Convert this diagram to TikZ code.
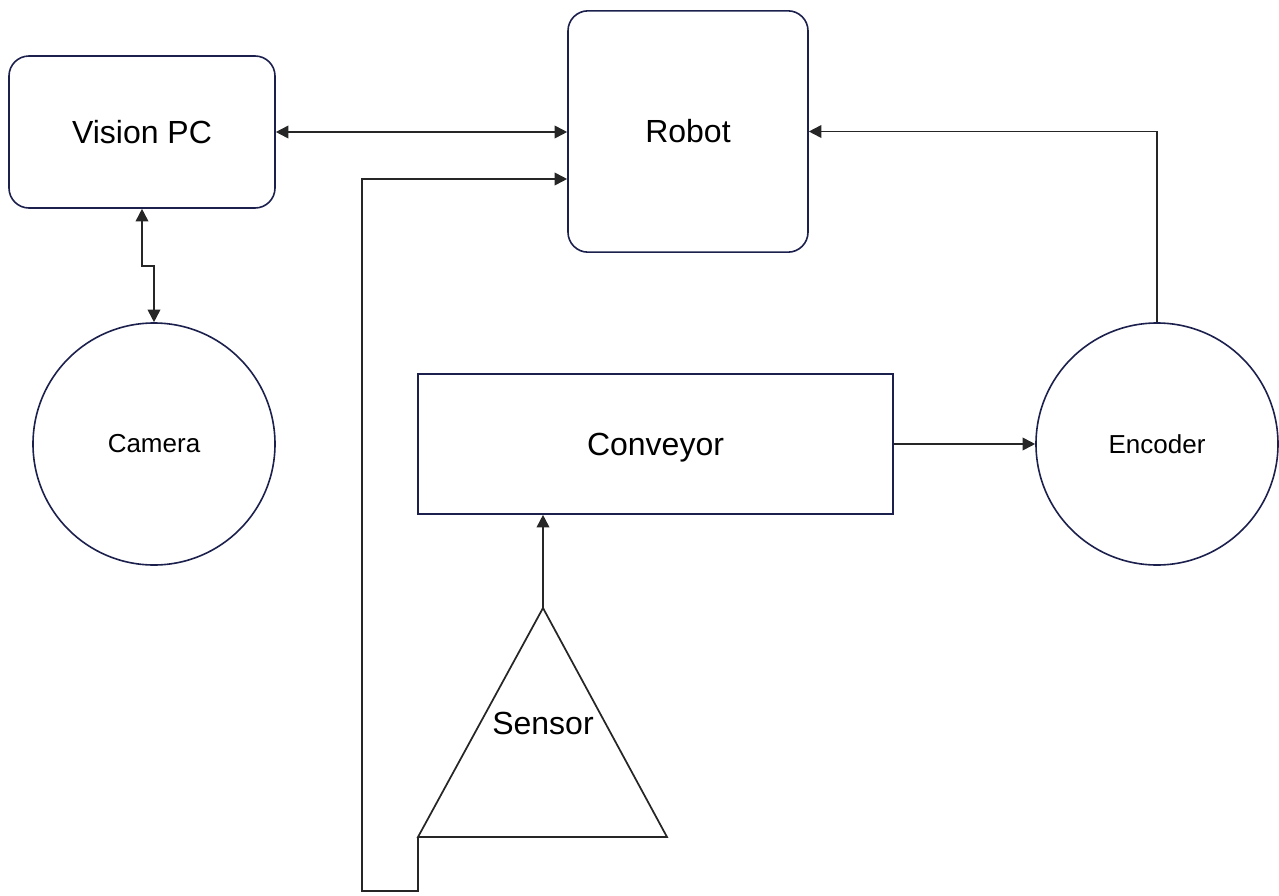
\documentclass[tikz,border=0pt]{standalone}
\usepackage{fontspec}
\setmainfont{Liberation Sans}
\usetikzlibrary{arrows.meta,calc,positioning,shapes}
\definecolor{navy}{RGB}{28,32,76}
\tikzstyle{block}=[draw=navy, line width=1.2pt, rectangle, rounded corners=15pt, align=center, font=\fontsize{24}{28}\selectfont]
\tikzstyle{belt}=[draw=navy, line width=1.2pt, rectangle, minimum width=356pt, minimum height=105pt, text depth=0pt, font=\fontsize{24}{28}\selectfont]
\tikzstyle{wheel}=[draw=navy, line width=1.2pt, circle, minimum size=181.5pt, inner sep=0pt, font=\fontsize{19.5}{23}\selectfont]
\tikzstyle{label} = [font=\fontsize{24}{28}\selectfont]
\tikzstyle{wire} = [draw=black!85, line width=1.3pt]

\begin{document}
\begin{tikzpicture}[x=0.75pt, y=-0.75pt, >={Triangle[length=9.5pt,width=9.5pt]}]
    \useasboundingbox (0,0) rectangle (1279,896);
    \node [block, minimum width=199.5pt, minimum height=114pt] (vision) at (142,132) {Vision PC};
    \node [block, minimum width=180pt, minimum height=181pt] (robot) at (688,131.5) {Robot};
    \node [wheel] (camera) at (154,444) {Camera};
    \node [wheel] (encoder) at (1157,444) {Encoder};
    \node [belt] (conveyor) at (655.5,444) {Conveyor};

    % sensor triangle
    \coordinate (apex) at (543,608);
    \coordinate (baseL) at (418,837);
    \coordinate (baseR) at (667,837);
    \draw [wire, line join=miter] (apex) -- (baseR) -- (baseL) -- cycle;
    \node [label] (sensor) at (543,723) {Sensor};

    \coordinate (loop) at (362,891);
    \coordinate (robotin) at ($(robot.west)+(0,47.5)$);

    \draw [wire, <->] (vision.east) -- (vision.east -| robot.west);
    \draw [wire, <->] (vision.south) -- ++(0,57) -| (camera.north);
    \draw [wire, ->] (baseL) |- (loop) |- (robotin);
    \draw [wire, ->] (encoder.north) |- (robot.east);
    \draw [wire, ->] (conveyor) -- (encoder);
    \draw [wire, ->] (apex) -- (apex |- conveyor.south);
\end{tikzpicture}
\end{document}
